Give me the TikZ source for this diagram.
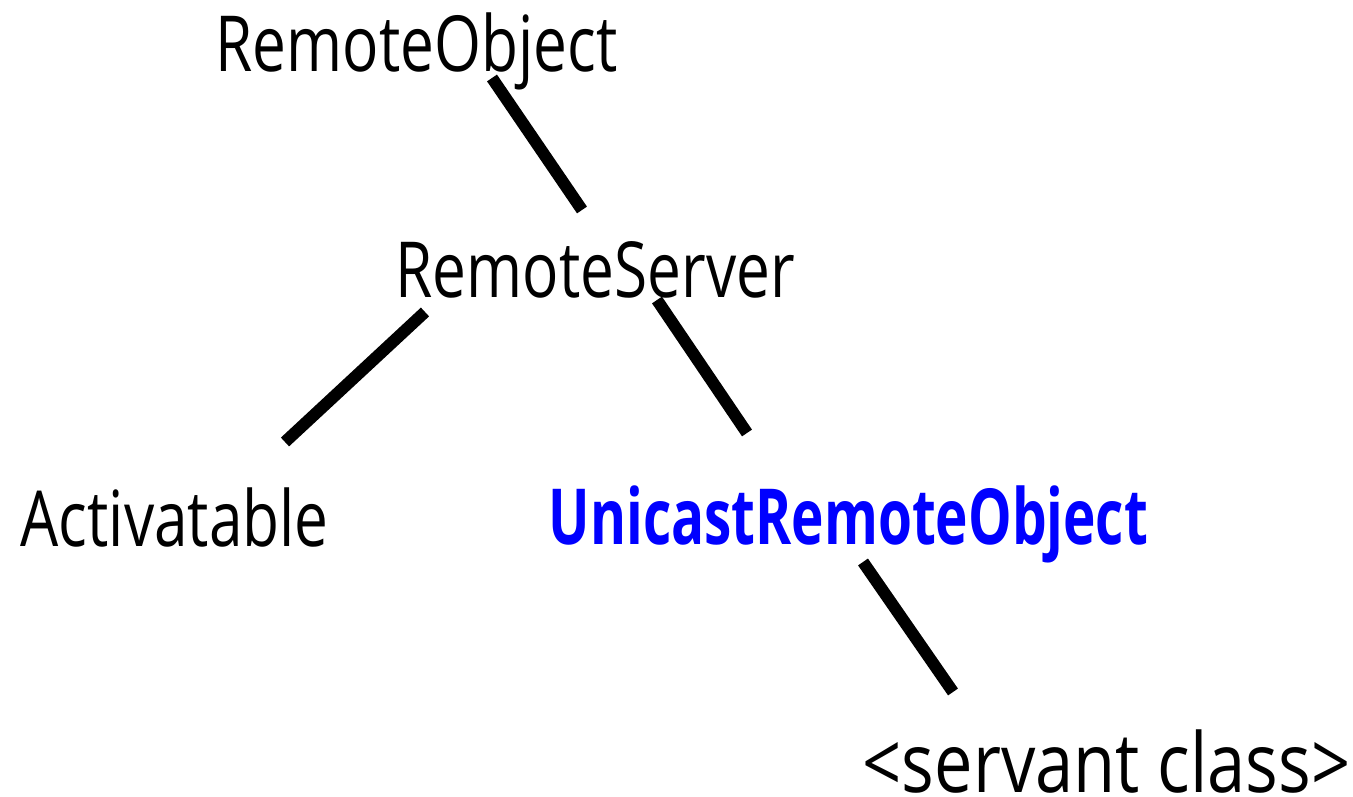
\documentclass[tikz,border=0pt]{standalone}
\usepackage{fontspec}
\setmainfont{Open Sans}[FakeStretch=0.78]
\usepackage{tikz}
\usetikzlibrary{positioning}
\definecolor{uroblue}{RGB}{0,0,255}
\tikzstyle{cls} = [anchor=base west, inner sep=0pt, font=\fontsize{22}{26}\selectfont]
\tikzstyle{link} = [line width=0.12cm, black]

\begin{document}
\begin{tikzpicture}
\useasboundingbox (0,0) rectangle (13.53,7.97);
\node (ro) [cls] at (2.15,7.25) {RemoteObject};
\node (rs) [cls] at (3.95,4.99) {RemoteServer};
\node (act) [cls] at (0.20,2.50) {Activatable};
\node (uro) [cls, text=uroblue, font=\fontsize{22}{26}\selectfont\bfseries\addfontfeature{FakeStretch=0.71}] at (5.48,2.52) {UnicastRemoteObject};
\node (srv) [cls, font=\fontsize{23.5}{28}\selectfont\addfontfeature{FakeStretch=0.83}] at (8.62,0.04) {<servant class>};

\draw [link] ([shift={(2.77,-0.06)}]ro.base west) -- ([shift={(1.87,0.88)}]rs.base west);
\draw [link] ([shift={(0.30,-0.14)}]rs.base west) -- ([shift={(2.65,1.05)}]act.base west);
\draw [link] ([shift={(2.62,-0.02)}]rs.base west) -- ([shift={(1.99,1.12)}]uro.base west);
\draw [link] ([shift={(3.15,-0.17)}]uro.base west) -- ([shift={(0.91,1.01)}]srv.base west);
\end{tikzpicture}
\end{document}
